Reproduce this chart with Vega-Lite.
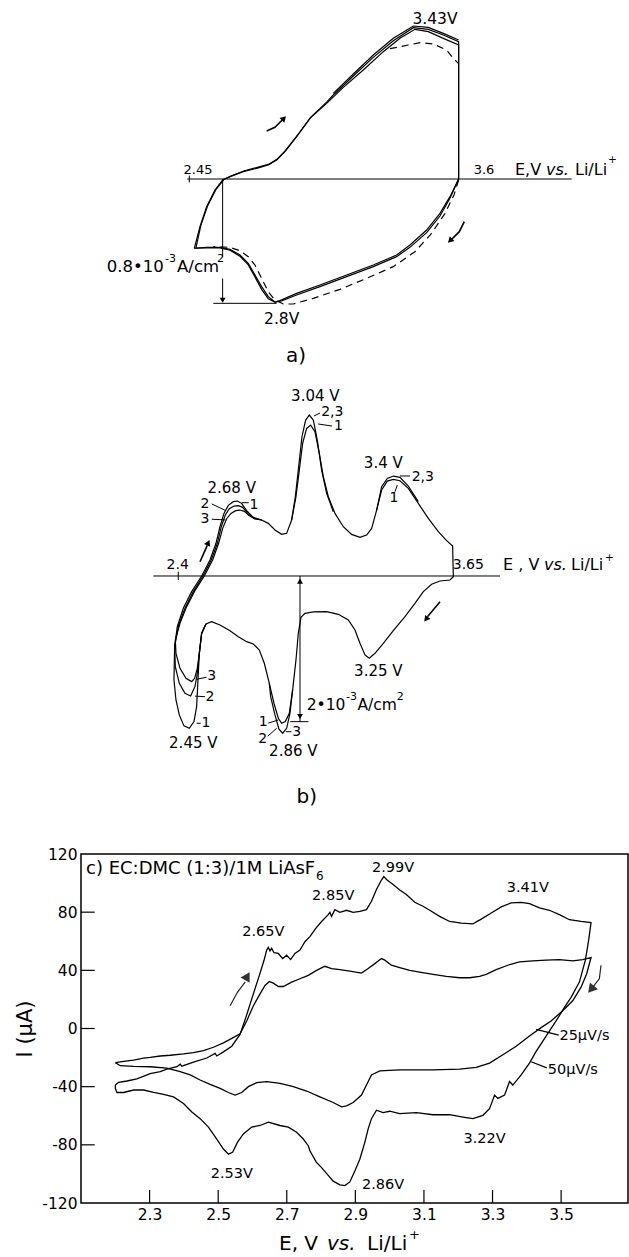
{
"$schema":"https://vega.github.io/schema/vega-lite/v6.json",
"background":"white",
"padding":{"left":14,"top":0,"right":0,"bottom":0},
"spacing":0,
"bounds":"flush",
"config":{"view":{"stroke":null},"text":{"font":"DejaVu Sans","color":"black"}},
"datasets":{
"a_solid":[
{"s":"1","k":1,"E":2.4713,"I":-0.4462},{"s":"1","k":2,"E":2.4954,"I":-0.3067},{"s":"1","k":3,"E":2.5238,"I":-0.178},{"s":"1","k":4,"E":2.5593,"I":-0.0708},{"s":"1","k":5,"E":2.592,"I":-0.0064},{"s":"1","k":6,"E":2.6232,"I":0.015},{"s":"1","k":7,"E":2.68,"I":0.0472},{"s":"1","k":8,"E":2.7368,"I":0.0686},{"s":"1","k":9,"E":2.7865,"I":0.0901},{"s":"1","k":10,"E":2.822,"I":0.1223},{"s":"1","k":11,"E":2.8574,"I":0.1759},{"s":"1","k":12,"E":2.9071,"I":0.2724},{"s":"1","k":13,"E":2.9639,"I":0.3904},{"s":"1","k":14,"E":3.0349,"I":0.4869},{"s":"1","k":15,"E":3.1059,"I":0.5899},{"s":"1","k":16,"E":3.1911,"I":0.7014},{"s":"1","k":17,"E":3.2762,"I":0.8194},{"s":"1","k":18,"E":3.3472,"I":0.9052},{"s":"1","k":19,"E":3.4111,"I":0.9631},{"s":"1","k":20,"E":3.4679,"I":0.9481},{"s":"1","k":21,"E":3.5318,"I":0.9052},{"s":"1","k":22,"E":3.5971,"I":0.8623},{"s":"1","k":23,"E":3.5971,"I":0},{"s":"1","k":24,"E":3.5885,"I":-0.0279},{"s":"1","k":25,"E":3.5602,"I":-0.1137},{"s":"1","k":26,"E":3.5176,"I":-0.2209},{"s":"1","k":27,"E":3.4608,"I":-0.3282},{"s":"1","k":28,"E":3.3898,"I":-0.4247},{"s":"1","k":29,"E":3.333,"I":-0.4891},{"s":"1","k":30,"E":3.2336,"I":-0.5534},{"s":"1","k":31,"E":3.1201,"I":-0.6178},{"s":"1","k":32,"E":3.0065,"I":-0.6821},{"s":"1","k":33,"E":2.9071,"I":-0.7357},{"s":"1","k":34,"E":2.8361,"I":-0.7829},{"s":"1","k":35,"E":2.8148,"I":-0.7915},{"s":"1","k":36,"E":2.7865,"I":-0.7572},{"s":"1","k":37,"E":2.7581,"I":-0.6928},{"s":"1","k":38,"E":2.7297,"I":-0.6178},{"s":"1","k":39,"E":2.7013,"I":-0.5427},{"s":"1","k":40,"E":2.6658,"I":-0.4891},{"s":"1","k":41,"E":2.6232,"I":-0.4526},{"s":"1","k":42,"E":2.5806,"I":-0.4397},{"s":"1","k":43,"E":2.5238,"I":-0.4397},{"s":"1","k":44,"E":2.4713,"I":-0.4462},
{"s":"2","k":1,"E":2.478,"I":-0.444},{"s":"2","k":2,"E":2.499,"I":-0.3},{"s":"2","k":3,"E":2.528,"I":-0.173},{"s":"2","k":4,"E":2.564,"I":-0.066},{"s":"2","k":5,"E":2.598,"I":-0.002},{"s":"2","k":6,"E":2.63,"I":0.02},{"s":"2","k":7,"E":2.685,"I":0.053},{"s":"2","k":8,"E":2.74,"I":0.075},{"s":"2","k":9,"E":2.79,"I":0.096},{"s":"2","k":10,"E":2.825,"I":0.129},{"s":"2","k":11,"E":2.86,"I":0.184},{"s":"2","k":12,"E":2.91,"I":0.28},{"s":"2","k":13,"E":2.968,"I":0.398},{"s":"2","k":14,"E":3.035,"I":0.495},{"s":"2","k":15,"E":3.0633,"I":0.5405},{"s":"2","k":16,"E":3.1485,"I":0.6628},{"s":"2","k":17,"E":3.2336,"I":0.783},{"s":"2","k":18,"E":3.3188,"I":0.8902},{"s":"2","k":19,"E":3.404,"I":0.9738},{"s":"2","k":20,"E":3.4679,"I":0.9631},{"s":"2","k":21,"E":3.5318,"I":0.9266},{"s":"2","k":22,"E":3.5971,"I":0.8837},{"s":"2","k":23,"E":3.5971,"I":0},{"s":"2","k":24,"E":3.5602,"I":-0.1244},{"s":"2","k":25,"E":3.5176,"I":-0.2381},{"s":"2","k":26,"E":3.4608,"I":-0.3453},{"s":"2","k":27,"E":3.3898,"I":-0.4397},{"s":"2","k":28,"E":3.333,"I":-0.4998},{"s":"2","k":29,"E":3.2336,"I":-0.5641},{"s":"2","k":30,"E":3.1201,"I":-0.6285},{"s":"2","k":31,"E":3.0065,"I":-0.6928},{"s":"2","k":32,"E":2.9071,"I":-0.7465},{"s":"2","k":33,"E":2.8432,"I":-0.7851},{"s":"2","k":34,"E":2.8148,"I":-0.7915},{"s":"2","k":35,"E":2.7865,"I":-0.77},{"s":"2","k":36,"E":2.7581,"I":-0.71},{"s":"2","k":37,"E":2.7297,"I":-0.63},{"s":"2","k":38,"E":2.7013,"I":-0.553},{"s":"2","k":39,"E":2.6658,"I":-0.497},{"s":"2","k":40,"E":2.6232,"I":-0.458},{"s":"2","k":41,"E":2.5806,"I":-0.444},{"s":"2","k":42,"E":2.5238,"I":-0.444},{"s":"2","k":43,"E":2.478,"I":-0.444},
{"s":"3","k":1,"E":3.0633,"I":0.5513},{"s":"3","k":2,"E":3.1485,"I":0.6757},{"s":"3","k":3,"E":3.2336,"I":0.798},{"s":"3","k":4,"E":3.3188,"I":0.9052},{"s":"3","k":5,"E":3.404,"I":0.9846},{"s":"3","k":6,"E":3.4679,"I":0.976},{"s":"3","k":7,"E":3.5318,"I":0.9374},{"s":"3","k":8,"E":3.5971,"I":0.8945}
],
"a_dash":[
{"s":"d1","k":1,"E":3.3046,"I":0.8387},{"s":"d1","k":2,"E":3.3827,"I":0.8623},{"s":"d1","k":3,"E":3.4324,"I":0.8773},{"s":"d1","k":4,"E":3.4892,"I":0.8687},{"s":"d1","k":5,"E":3.546,"I":0.8301},{"s":"d1","k":6,"E":3.5744,"I":0.7765},{"s":"d1","k":7,"E":3.5957,"I":0.7443},
{"s":"d2","k":1,"E":3.5971,"I":-0.0064},{"s":"d2","k":2,"E":3.5772,"I":-0.103},{"s":"d2","k":3,"E":3.5389,"I":-0.2209},{"s":"d2","k":4,"E":3.4821,"I":-0.3496},{"s":"d2","k":5,"E":3.4111,"I":-0.4676},{"s":"d2","k":6,"E":3.3188,"I":-0.5641},{"s":"d2","k":7,"E":3.2052,"I":-0.6392},{"s":"d2","k":8,"E":3.0917,"I":-0.71},{"s":"d2","k":9,"E":2.9781,"I":-0.7679},{"s":"d2","k":10,"E":2.8929,"I":-0.8044},{"s":"d2","k":11,"E":2.8503,"I":-0.8044},{"s":"d2","k":12,"E":2.8148,"I":-0.7786},{"s":"d2","k":13,"E":2.7865,"I":-0.725},{"s":"d2","k":14,"E":2.7581,"I":-0.6392},{"s":"d2","k":15,"E":2.7297,"I":-0.5534},{"s":"d2","k":16,"E":2.7013,"I":-0.4998},{"s":"d2","k":17,"E":2.6658,"I":-0.4612},{"s":"d2","k":18,"E":2.6232,"I":-0.4397},{"s":"d2","k":19,"E":2.5522,"I":-0.4354}
],
"a_rules":[
{"E":2.4415,"I":0,"E2":4.0786,"I2":0},{"E":2.45,"I":-0.022,"E2":2.45,"I2":0.022},{"E":2.592,"I":0,"E2":2.592,"I2":-0.5},{"E":2.592,"I":-0.64,"E2":2.592,"I2":-0.78},{"E":2.5522,"I":-0.8,"E2":2.822,"I2":-0.8}
],
"a_arr":[
{"s":"u","k":1,"E":2.7794,"I":0.3089},{"s":"u","k":2,"E":2.8148,"I":0.3325},{"s":"u","k":3,"E":2.848,"I":0.383},
{"s":"d","k":1,"E":3.6212,"I":-0.2746},{"s":"d","k":2,"E":3.6,"I":-0.3389},{"s":"d","k":3,"E":3.566,"I":-0.39}
],
"a_text":[
{"g":"c","t":"3.43V","E":3.4964,"I":1.0296},{"g":"c","t":"2.8V","E":2.8435,"I":-0.9009},
{"g":"s","t":"2.45","E":2.4871,"I":0.0579},{"g":"s","t":"3.6","E":3.7051,"I":0.0579},
{"g":"ax","t":"E,V","E":3.8371,"I":0.0579},{"g":"ax","t":"Li/Li","E":4.0926,"I":0.0579},
{"g":"i","t":"vs.","E":3.9691,"I":0.0579},
{"g":"sup","t":"+","E":4.2331,"I":0.12},
{"g":"big","t":"a)","E":2.9044,"I":-1.139},
{"g":"sci","t":"0.8•10","E":2.0982,"I":-0.5965},{"g":"sci","t":"A/cm","E":2.3978,"I":-0.5965},
{"g":"scis","t":"-3","E":2.3467,"I":-0.5341},{"g":"scis","t":"2","E":2.568,"I":-0.5341}
],
"b_curves":[
{"s":"1","k":1,"E":2.3803,"I":-1.428},{"s":"1","k":2,"E":2.3833,"I":-0.97},{"s":"1","k":3,"E":2.3954,"I":-0.696},{"s":"1","k":4,"E":2.4228,"I":-0.444},{"s":"1","k":5,"E":2.4607,"I":-0.215},{"s":"1","k":6,"E":2.5063,"I":0},{"s":"1","k":7,"E":2.5443,"I":0.22},{"s":"1","k":8,"E":2.5716,"I":0.449},{"s":"1","k":9,"E":2.5898,"I":0.677},{"s":"1","k":10,"E":2.608,"I":0.86},{"s":"1","k":11,"E":2.6278,"I":0.97},{"s":"1","k":12,"E":2.6506,"I":1.021},{"s":"1","k":13,"E":2.6688,"I":1.03},{"s":"1","k":14,"E":2.6885,"I":0.998},{"s":"1","k":15,"E":2.7113,"I":0.897},{"s":"1","k":16,"E":2.7417,"I":0.805},{"s":"1","k":17,"E":2.7797,"I":0.769},{"s":"1","k":18,"E":2.81,"I":0.723},{"s":"1","k":19,"E":2.8404,"I":0.632},{"s":"1","k":20,"E":2.8708,"I":0.572},{"s":"1","k":21,"E":2.8936,"I":0.586},{"s":"1","k":22,"E":2.9163,"I":0.769},{"s":"1","k":23,"E":2.9361,"I":1.089},{"s":"1","k":24,"E":2.9513,"I":1.455},{"s":"1","k":25,"E":2.9664,"I":1.822},{"s":"1","k":26,"E":2.9847,"I":2.027},{"s":"1","k":27,"E":3.0029,"I":2.073},{"s":"1","k":28,"E":3.0226,"I":1.982},{"s":"1","k":29,"E":3.0424,"I":1.684},{"s":"1","k":30,"E":3.0606,"I":1.364},{"s":"1","k":31,"E":3.0834,"I":1.089},{"s":"1","k":32,"E":3.1137,"I":0.86},{"s":"1","k":33,"E":3.1517,"I":0.677},{"s":"1","k":34,"E":3.1897,"I":0.572},{"s":"1","k":35,"E":3.2276,"I":0.531},{"s":"1","k":36,"E":3.258,"I":0.563},{"s":"1","k":37,"E":3.2808,"I":0.654},{"s":"1","k":38,"E":3.3036,"I":0.906},{"s":"1","k":39,"E":3.3264,"I":1.181},{"s":"1","k":40,"E":3.3522,"I":1.304},{"s":"1","k":41,"E":3.3795,"I":1.327},{"s":"1","k":42,"E":3.4099,"I":1.309},{"s":"1","k":43,"E":3.4479,"I":1.204},{"s":"1","k":44,"E":3.4934,"I":0.998},{"s":"1","k":45,"E":3.539,"I":0.792},{"s":"1","k":46,"E":3.5846,"I":0.609},{"s":"1","k":47,"E":3.6225,"I":0.485},{"s":"1","k":48,"E":3.6498,"I":0.412},{"s":"1","k":49,"E":3.6529,"I":-0.009},{"s":"1","k":50,"E":3.6377,"I":-0.055},{"s":"1","k":51,"E":3.5921,"I":-0.069},{"s":"1","k":52,"E":3.5541,"I":-0.114},{"s":"1","k":53,"E":3.5162,"I":-0.215},{"s":"1","k":54,"E":3.4782,"I":-0.375},{"s":"1","k":55,"E":3.4326,"I":-0.558},{"s":"1","k":56,"E":3.3795,"I":-0.751},{"s":"1","k":57,"E":3.334,"I":-0.924},{"s":"1","k":58,"E":3.296,"I":-1.062},{"s":"1","k":59,"E":3.2702,"I":-1.13},{"s":"1","k":60,"E":3.2504,"I":-1.085},{"s":"1","k":61,"E":3.2276,"I":-0.924},{"s":"1","k":62,"E":3.2049,"I":-0.741},{"s":"1","k":63,"E":3.1745,"I":-0.604},{"s":"1","k":64,"E":3.1289,"I":-0.526},{"s":"1","k":65,"E":3.0758,"I":-0.49},{"s":"1","k":66,"E":3.015,"I":-0.494},{"s":"1","k":67,"E":2.9771,"I":-0.513},{"s":"1","k":68,"E":2.9588,"I":-0.568},{"s":"1","k":69,"E":2.9467,"I":-0.787},{"s":"1","k":70,"E":2.9361,"I":-1.153},{"s":"1","k":71,"E":2.9209,"I":-1.565},{"s":"1","k":72,"E":2.9057,"I":-1.886},{"s":"1","k":73,"E":2.8875,"I":-2.0},{"s":"1","k":74,"E":2.8708,"I":-2.023},{"s":"1","k":75,"E":2.8556,"I":-1.954},{"s":"1","k":76,"E":2.8358,"I":-1.748},{"s":"1","k":77,"E":2.8146,"I":-1.474},{"s":"1","k":78,"E":2.7918,"I":-1.199},{"s":"1","k":79,"E":2.769,"I":-1.016},{"s":"1","k":80,"E":2.7417,"I":-0.934},{"s":"1","k":81,"E":2.7113,"I":-0.902},{"s":"1","k":82,"E":2.6733,"I":-0.833},{"s":"1","k":83,"E":2.6354,"I":-0.751},{"s":"1","k":84,"E":2.5898,"I":-0.673},{"s":"1","k":85,"E":2.5519,"I":-0.627},{"s":"1","k":86,"E":2.526,"I":-0.659},{"s":"1","k":87,"E":2.5063,"I":-0.787},{"s":"1","k":88,"E":2.4957,"I":-1.062},{"s":"1","k":89,"E":2.4896,"I":-1.428},{"s":"1","k":90,"E":2.4835,"I":-1.794},{"s":"1","k":91,"E":2.4714,"I":-2.0},{"s":"1","k":92,"E":2.4501,"I":-2.092},{"s":"1","k":93,"E":2.4258,"I":-2.059},{"s":"1","k":94,"E":2.4046,"I":-1.908},{"s":"1","k":95,"E":2.3894,"I":-1.703},{"s":"1","k":96,"E":2.3803,"I":-1.428},
{"s":"2A","k":1,"E":2.526,"I":-0.659},{"s":"2A","k":2,"E":2.5063,"I":-0.787},{"s":"2A","k":3,"E":2.4957,"I":-1.062},{"s":"2A","k":4,"E":2.4866,"I":-1.336},{"s":"2A","k":5,"E":2.4759,"I":-1.519},{"s":"2A","k":6,"E":2.4562,"I":-1.648},{"s":"2A","k":7,"E":2.4304,"I":-1.611},{"s":"2A","k":8,"E":2.4046,"I":-1.474},{"s":"2A","k":9,"E":2.3863,"I":-1.245},{"s":"2A","k":10,"E":2.3833,"I":-0.97},{"s":"2A","k":11,"E":2.4015,"I":-0.673},{"s":"2A","k":12,"E":2.4304,"I":-0.444},{"s":"2A","k":13,"E":2.4683,"I":-0.215},{"s":"2A","k":14,"E":2.5124,"I":0},{"s":"2A","k":15,"E":2.5503,"I":0.22},{"s":"2A","k":16,"E":2.5777,"I":0.449},{"s":"2A","k":17,"E":2.5959,"I":0.677},{"s":"2A","k":18,"E":2.6141,"I":0.838},{"s":"2A","k":19,"E":2.6323,"I":0.924},{"s":"2A","k":20,"E":2.6536,"I":0.961},{"s":"2A","k":21,"E":2.6733,"I":0.966},{"s":"2A","k":22,"E":2.6931,"I":0.943},{"s":"2A","k":23,"E":2.7159,"I":0.86},{"s":"2A","k":24,"E":2.7447,"I":0.792},{"s":"2A","k":25,"E":2.7797,"I":0.769},
{"s":"3A","k":1,"E":2.526,"I":-0.659},{"s":"3A","k":2,"E":2.5063,"I":-0.787},{"s":"3A","k":3,"E":2.4957,"I":-1.062},{"s":"3A","k":4,"E":2.4866,"I":-1.268},{"s":"3A","k":5,"E":2.4744,"I":-1.405},{"s":"3A","k":6,"E":2.4607,"I":-1.451},{"s":"3A","k":7,"E":2.4349,"I":-1.405},{"s":"3A","k":8,"E":2.4076,"I":-1.268},{"s":"3A","k":9,"E":2.3894,"I":-1.062},{"s":"3A","k":10,"E":2.3863,"I":-0.879},{"s":"3A","k":11,"E":2.4076,"I":-0.65},{"s":"3A","k":12,"E":2.438,"I":-0.421},{"s":"3A","k":13,"E":2.4759,"I":-0.201},{"s":"3A","k":14,"E":2.5185,"I":0},{"s":"3A","k":15,"E":2.5564,"I":0.22},{"s":"3A","k":16,"E":2.5837,"I":0.449},{"s":"3A","k":17,"E":2.602,"I":0.654},{"s":"3A","k":18,"E":2.6202,"I":0.787},{"s":"3A","k":19,"E":2.6399,"I":0.86},{"s":"3A","k":20,"E":2.6612,"I":0.897},{"s":"3A","k":21,"E":2.6809,"I":0.906},{"s":"3A","k":22,"E":2.7007,"I":0.888},{"s":"3A","k":23,"E":2.7235,"I":0.828},{"s":"3A","k":24,"E":2.7493,"I":0.783},{"s":"3A","k":25,"E":2.7797,"I":0.769},
{"s":"B","k":1,"E":2.9163,"I":0.769},{"s":"B","k":2,"E":2.9331,"I":1.089},{"s":"B","k":3,"E":2.9482,"I":1.501},{"s":"B","k":4,"E":2.9634,"I":1.913},{"s":"B","k":5,"E":2.9801,"I":2.142},{"s":"B","k":6,"E":2.9968,"I":2.211},{"s":"B","k":7,"E":3.015,"I":2.142},{"s":"B","k":8,"E":3.0332,"I":1.867},{"s":"B","k":9,"E":3.053,"I":1.455},{"s":"B","k":10,"E":3.0758,"I":1.135},{"s":"B","k":11,"E":3.1061,"I":0.883},
{"s":"C","k":1,"E":3.3036,"I":0.906},{"s":"C","k":2,"E":3.3264,"I":1.227},{"s":"C","k":3,"E":3.3522,"I":1.341},{"s":"C","k":4,"E":3.3795,"I":1.373},{"s":"C","k":5,"E":3.4099,"I":1.355},{"s":"C","k":6,"E":3.4479,"I":1.236},{"s":"C","k":7,"E":3.4934,"I":1.021},
{"s":"D","k":1,"E":2.9209,"I":-1.565},{"s":"D","k":2,"E":2.9087,"I":-1.886},{"s":"D","k":3,"E":2.8936,"I":-2.092},{"s":"D","k":4,"E":2.8754,"I":-2.16},{"s":"D","k":5,"E":2.8587,"I":-2.105},{"s":"D","k":6,"E":2.8404,"I":-1.908},{"s":"D","k":7,"E":2.8207,"I":-1.657},{"s":"D","k":8,"E":2.8146,"I":-1.474}
],
"b_rules":[
{"E":2.2861,"I":0,"E2":3.8656,"I2":0},{"E":2.4,"I":-0.055,"E2":2.4,"I2":0.06},{"E":2.9544,"I":0,"E2":2.9544,"I2":-2.0},{"E":2.9093,"I":-2.001,"E2":2.9927,"I2":-2.001},
{"E":3.0184,"I":2.198,"E2":3.0456,"I2":2.239},{"E":3.0369,"I":2.088,"E2":3.1007,"I2":2.06},{"E":2.5522,"I":0.99,"E2":2.615,"I2":0.9},{"E":2.5522,"I":0.78,"E2":2.615,"I2":0.77},{"E":2.6888,"I":1.007,"E2":2.721,"I2":1.007},{"E":3.41,"I":1.374,"E2":3.4556,"I2":1.374},{"E":3.3873,"I":1.158,"E2":3.3978,"I2":1.25},{"E":2.4838,"I":-1.419,"E2":2.528,"I2":-1.391},{"E":2.4761,"I":-1.65,"E2":2.5216,"I2":-1.658},{"E":2.4838,"I":-2.023,"E2":2.502,"I2":-2.023},{"E":2.81,"I":-2.02,"E2":2.8556,"I2":-1.978},{"E":2.8073,"I":-2.2,"E2":2.8483,"I2":-2.092},{"E":2.89,"I":-2.139,"E2":2.915,"I2":-2.139}
],
"b_arr":[
{"s":"l","k":1,"E":2.4989,"I":0.196},{"s":"l","k":2,"E":2.532,"I":0.42},
{"s":"r","k":1,"E":3.5923,"I":-0.353},{"s":"r","k":2,"E":3.535,"I":-0.56}
],
"b_text":[
{"g":"c","t":"3.04 V","E":3.0242,"I":2.473},{"g":"c","t":"2.68 V","E":2.6433,"I":1.205},{"g":"c","t":"3.4 V","E":3.3339,"I":1.548},{"g":"c","t":"3.25 V","E":3.3112,"I":-1.301},{"g":"c","t":"2.45 V","E":2.4683,"I":-2.29},{"g":"c","t":"2.86 V","E":2.9239,"I":-2.404},
{"g":"n","t":"2","E":2.5216,"I":0.99},{"g":"n","t":"3","E":2.5216,"I":0.78},{"g":"n","t":"1","E":2.7449,"I":0.975},{"g":"n","t":"1","E":3.3827,"I":1.067},{"g":"n","t":"3","E":2.5522,"I":-1.369},{"g":"n","t":"2","E":2.5444,"I":-1.658},{"g":"n","t":"1","E":2.5262,"I":-2.023},{"g":"n","t":"1","E":2.7872,"I":-2.0},{"g":"n","t":"2","E":2.7845,"I":-2.235},{"g":"n","t":"3","E":2.9394,"I":-2.139},
{"g":"s","t":"2.4","E":2.3973,"I":0.151},{"g":"s","t":"3.65","E":3.7212,"I":0.151},
{"g":"l","t":"2,3","E":3.051,"I":2.253},{"g":"l","t":"1","E":3.1093,"I":2.06},{"g":"l","t":"2,3","E":3.4633,"I":1.356},
{"g":"ax","t":"E , V","E":3.8793,"I":0.151},{"g":"ax","t":"Li/Li","E":4.1891,"I":0.151},
{"g":"i","t":"vs.","E":4.0661,"I":0.151},
{"g":"sup","t":"+","E":4.344,"I":0.25},
{"g":"big","t":"b)","E":2.985,"I":-3.036},
{"g":"sci","t":"2•10","E":2.985,"I":-1.841},{"g":"sci","t":"A/cm","E":3.2164,"I":-1.841},
{"g":"scis","t":"-3","E":3.164,"I":-1.707},{"g":"scis","t":"2","E":3.3952,"I":-1.707}
],
"c_curves":[
{"s":"o","k":1,"E":2.2001,"I":-38.9},{"s":"o","k":2,"E":2.2098,"I":-37.0},{"s":"o","k":3,"E":2.234,"I":-36.1},{"s":"o","k":4,"E":2.2631,"I":-34.7},{"s":"o","k":5,"E":2.302,"I":-31.0},{"s":"o","k":6,"E":2.331,"I":-29.6},{"s":"o","k":7,"E":2.3504,"I":-28.0},{"s":"o","k":8,"E":2.3795,"I":-26.3},{"s":"o","k":9,"E":2.3892,"I":-24.5},{"s":"o","k":10,"E":2.3941,"I":-25.9},{"s":"o","k":11,"E":2.428,"I":-23.1},{"s":"o","k":12,"E":2.4668,"I":-20.3},{"s":"o","k":13,"E":2.4911,"I":-17.1},{"s":"o","k":14,"E":2.4959,"I":-18.9},{"s":"o","k":15,"E":2.5153,"I":-16.1},{"s":"o","k":16,"E":2.5396,"I":-12.2},{"s":"o","k":17,"E":2.5638,"I":-4.1},{"s":"o","k":18,"E":2.5832,"I":9.4},{"s":"o","k":19,"E":2.6026,"I":23.8},{"s":"o","k":20,"E":2.6201,"I":36.5},{"s":"o","k":21,"E":2.6337,"I":46.9},{"s":"o","k":22,"E":2.6414,"I":53.9},{"s":"o","k":23,"E":2.6463,"I":55.8},{"s":"o","k":24,"E":2.6511,"I":53.4},{"s":"o","k":25,"E":2.656,"I":55.1},{"s":"o","k":26,"E":2.6628,"I":52.1},{"s":"o","k":27,"E":2.6754,"I":51.6},{"s":"o","k":28,"E":2.688,"I":48.1},{"s":"o","k":29,"E":2.6996,"I":50.4},{"s":"o","k":30,"E":2.7113,"I":47.4},{"s":"o","k":31,"E":2.7239,"I":51.6},{"s":"o","k":32,"E":2.7384,"I":53.9},{"s":"o","k":33,"E":2.753,"I":59.7},{"s":"o","k":34,"E":2.7675,"I":63.2},{"s":"o","k":35,"E":2.785,"I":69.0},{"s":"o","k":36,"E":2.8015,"I":73.6},{"s":"o","k":37,"E":2.8209,"I":78.3},{"s":"o","k":38,"E":2.8257,"I":79.9},{"s":"o","k":39,"E":2.8306,"I":77.1},{"s":"o","k":40,"E":2.8403,"I":81.7},{"s":"o","k":41,"E":2.8548,"I":79.9},{"s":"o","k":42,"E":2.8742,"I":81.3},{"s":"o","k":43,"E":2.8936,"I":79.9},{"s":"o","k":44,"E":2.913,"I":80.6},{"s":"o","k":45,"E":2.9324,"I":81.7},{"s":"o","k":46,"E":2.947,"I":87.5},{"s":"o","k":47,"E":2.9615,"I":95.6},{"s":"o","k":48,"E":2.9761,"I":102.1},{"s":"o","k":49,"E":2.9829,"I":104.5},{"s":"o","k":50,"E":2.9926,"I":102.1},{"s":"o","k":51,"E":3.01,"I":99.1},{"s":"o","k":52,"E":3.0294,"I":95.2},{"s":"o","k":53,"E":3.0488,"I":92.2},{"s":"o","k":54,"E":3.0731,"I":86.8},{"s":"o","k":55,"E":3.0973,"I":84.1},{"s":"o","k":56,"E":3.1216,"I":80.6},{"s":"o","k":57,"E":3.1458,"I":77.1},{"s":"o","k":58,"E":3.1749,"I":73.6},{"s":"o","k":59,"E":3.2089,"I":72.5},{"s":"o","k":60,"E":3.2428,"I":72.0},{"s":"o","k":61,"E":3.2671,"I":75.2},{"s":"o","k":62,"E":3.2962,"I":79.4},{"s":"o","k":63,"E":3.3253,"I":83.6},{"s":"o","k":64,"E":3.3544,"I":86.4},{"s":"o","k":65,"E":3.3835,"I":86.8},{"s":"o","k":66,"E":3.4077,"I":85.9},{"s":"o","k":67,"E":3.4368,"I":82.9},{"s":"o","k":68,"E":3.4659,"I":81.3},{"s":"o","k":69,"E":3.495,"I":78.3},{"s":"o","k":70,"E":3.5241,"I":74.8},{"s":"o","k":71,"E":3.5581,"I":73.6},{"s":"o","k":72,"E":3.5872,"I":72.9},{"s":"o","k":73,"E":3.5804,"I":60.9},{"s":"o","k":74,"E":3.5707,"I":47.0},{"s":"o","k":75,"E":3.5532,"I":31.9},{"s":"o","k":76,"E":3.529,"I":21.4},{"s":"o","k":77,"E":3.5096,"I":14.5},{"s":"o","k":78,"E":3.4853,"I":5.2},{"s":"o","k":79,"E":3.4562,"I":-5.2},{"s":"o","k":80,"E":3.4271,"I":-15.7},{"s":"o","k":81,"E":3.4077,"I":-23.8},{"s":"o","k":82,"E":3.3835,"I":-31.9},{"s":"o","k":83,"E":3.3592,"I":-38.9},{"s":"o","k":84,"E":3.3495,"I":-36.5},{"s":"o","k":85,"E":3.335,"I":-45.8},{"s":"o","k":86,"E":3.3156,"I":-48.1},{"s":"o","k":87,"E":3.3059,"I":-45.8},{"s":"o","k":88,"E":3.2913,"I":-55.1},{"s":"o","k":89,"E":3.2719,"I":-59.7},{"s":"o","k":90,"E":3.2428,"I":-62.0},{"s":"o","k":91,"E":3.2137,"I":-60.9},{"s":"o","k":92,"E":3.1749,"I":-59.3},{"s":"o","k":93,"E":3.1264,"I":-59.3},{"s":"o","k":94,"E":3.0779,"I":-57.9},{"s":"o","k":95,"E":3.0294,"I":-58.6},{"s":"o","k":96,"E":3.0003,"I":-56.9},{"s":"o","k":97,"E":2.9809,"I":-57.9},{"s":"o","k":98,"E":2.9615,"I":-56.2},{"s":"o","k":99,"E":2.947,"I":-62.0},{"s":"o","k":100,"E":2.9373,"I":-69.0},{"s":"o","k":101,"E":2.9276,"I":-78.3},{"s":"o","k":102,"E":2.913,"I":-89.9},{"s":"o","k":103,"E":2.8985,"I":-98.0},{"s":"o","k":104,"E":2.8839,"I":-105.5},{"s":"o","k":105,"E":2.8694,"I":-108.0},{"s":"o","k":106,"E":2.8548,"I":-107.5},{"s":"o","k":107,"E":2.8354,"I":-105.0},{"s":"o","k":108,"E":2.8209,"I":-101.0},{"s":"o","k":109,"E":2.8015,"I":-95.7},{"s":"o","k":110,"E":2.7869,"I":-92.2},{"s":"o","k":111,"E":2.7675,"I":-84.1},{"s":"o","k":112,"E":2.7627,"I":-80.6},{"s":"o","k":113,"E":2.7481,"I":-76.0},{"s":"o","k":114,"E":2.7287,"I":-71.3},{"s":"o","k":115,"E":2.7045,"I":-67.8},{"s":"o","k":116,"E":2.6802,"I":-66.7},{"s":"o","k":117,"E":2.6463,"I":-64.4},{"s":"o","k":118,"E":2.622,"I":-66.7},{"s":"o","k":119,"E":2.5978,"I":-67.8},{"s":"o","k":120,"E":2.5735,"I":-72.5},{"s":"o","k":121,"E":2.5561,"I":-78.3},{"s":"o","k":122,"E":2.5425,"I":-85.0},{"s":"o","k":123,"E":2.5299,"I":-86.5},{"s":"o","k":124,"E":2.5153,"I":-82.9},{"s":"o","k":125,"E":2.4959,"I":-76.0},{"s":"o","k":126,"E":2.4717,"I":-67.8},{"s":"o","k":127,"E":2.4474,"I":-62.0},{"s":"o","k":128,"E":2.4232,"I":-57.4},{"s":"o","k":129,"E":2.3989,"I":-51.6},{"s":"o","k":130,"E":2.3698,"I":-47.0},{"s":"o","k":131,"E":2.3407,"I":-45.3},{"s":"o","k":132,"E":2.3116,"I":-44.0},{"s":"o","k":133,"E":2.2825,"I":-42.3},{"s":"o","k":134,"E":2.2534,"I":-42.3},{"s":"o","k":135,"E":2.2243,"I":-44.0},{"s":"o","k":136,"E":2.2049,"I":-44.0},{"s":"o","k":137,"E":2.2001,"I":-41.2},{"s":"o","k":138,"E":2.2001,"I":-38.9},
{"s":"i","k":1,"E":2.2001,"I":-23.5},{"s":"i","k":2,"E":2.2243,"I":-22.6},{"s":"i","k":3,"E":2.2534,"I":-21.7},{"s":"i","k":4,"E":2.2825,"I":-20.3},{"s":"i","k":5,"E":2.302,"I":-19.8},{"s":"i","k":6,"E":2.331,"I":-18.9},{"s":"i","k":7,"E":2.3601,"I":-18.4},{"s":"i","k":8,"E":2.3989,"I":-17.5},{"s":"i","k":9,"E":2.428,"I":-16.6},{"s":"i","k":10,"E":2.4571,"I":-15.2},{"s":"i","k":11,"E":2.4862,"I":-12.9},{"s":"i","k":12,"E":2.5153,"I":-9.9},{"s":"i","k":13,"E":2.5396,"I":-6.8},{"s":"i","k":14,"E":2.5638,"I":-3.6},{"s":"i","k":15,"E":2.5832,"I":5.2},{"s":"i","k":16,"E":2.6026,"I":15.6},{"s":"i","k":17,"E":2.622,"I":23.8},{"s":"i","k":18,"E":2.6366,"I":29.6},{"s":"i","k":19,"E":2.6492,"I":32.3},{"s":"i","k":20,"E":2.6608,"I":31.2},{"s":"i","k":21,"E":2.6754,"I":28.9},{"s":"i","k":22,"E":2.6899,"I":28.9},{"s":"i","k":23,"E":2.7142,"I":31.9},{"s":"i","k":24,"E":2.7384,"I":34.2},{"s":"i","k":25,"E":2.7627,"I":36.5},{"s":"i","k":26,"E":2.7869,"I":40.0},{"s":"i","k":27,"E":2.8112,"I":42.8},{"s":"i","k":28,"E":2.8306,"I":41.2},{"s":"i","k":29,"E":2.8548,"I":40.5},{"s":"i","k":30,"E":2.8839,"I":39.5},{"s":"i","k":31,"E":2.9179,"I":38.1},{"s":"i","k":32,"E":2.9373,"I":41.2},{"s":"i","k":33,"E":2.9567,"I":44.6},{"s":"i","k":34,"E":2.9761,"I":48.1},{"s":"i","k":35,"E":2.9858,"I":47.0},{"s":"i","k":36,"E":3.0052,"I":43.5},{"s":"i","k":37,"E":3.0294,"I":41.9},{"s":"i","k":38,"E":3.0585,"I":40.0},{"s":"i","k":39,"E":3.0876,"I":38.8},{"s":"i","k":40,"E":3.1264,"I":37.2},{"s":"i","k":41,"E":3.1652,"I":35.8},{"s":"i","k":42,"E":3.204,"I":34.9},{"s":"i","k":43,"E":3.2331,"I":34.9},{"s":"i","k":44,"E":3.2622,"I":35.8},{"s":"i","k":45,"E":3.2816,"I":37.2},{"s":"i","k":46,"E":3.3107,"I":40.5},{"s":"i","k":47,"E":3.3447,"I":43.5},{"s":"i","k":48,"E":3.3786,"I":45.8},{"s":"i","k":49,"E":3.4174,"I":46.5},{"s":"i","k":50,"E":3.4562,"I":47.0},{"s":"i","k":51,"E":3.495,"I":47.4},{"s":"i","k":52,"E":3.5338,"I":46.5},{"s":"i","k":53,"E":3.5629,"I":47.4},{"s":"i","k":54,"E":3.5872,"I":48.8},{"s":"i","k":55,"E":3.5746,"I":37.7},{"s":"i","k":56,"E":3.5581,"I":28.4},{"s":"i","k":57,"E":3.5338,"I":19.1},{"s":"i","k":58,"E":3.5047,"I":12.2},{"s":"i","k":59,"E":3.4707,"I":5.2},{"s":"i","k":60,"E":3.4417,"I":0.6},{"s":"i","k":61,"E":3.4077,"I":-5.2},{"s":"i","k":62,"E":3.3689,"I":-12.2},{"s":"i","k":63,"E":3.3301,"I":-18.0},{"s":"i","k":64,"E":3.2913,"I":-23.8},{"s":"i","k":65,"E":3.2525,"I":-26.8},{"s":"i","k":66,"E":3.204,"I":-28.0},{"s":"i","k":67,"E":3.1264,"I":-28.4},{"s":"i","k":68,"E":3.0294,"I":-28.4},{"s":"i","k":69,"E":2.9712,"I":-29.1},{"s":"i","k":70,"E":2.947,"I":-31.9},{"s":"i","k":71,"E":2.9324,"I":-38.9},{"s":"i","k":72,"E":2.9179,"I":-45.8},{"s":"i","k":73,"E":2.8936,"I":-50.9},{"s":"i","k":74,"E":2.8742,"I":-53.2},{"s":"i","k":75,"E":2.8597,"I":-53.9},{"s":"i","k":76,"E":2.8354,"I":-50.9},{"s":"i","k":77,"E":2.7966,"I":-47.0},{"s":"i","k":78,"E":2.7578,"I":-43.0},{"s":"i","k":79,"E":2.719,"I":-40.0},{"s":"i","k":80,"E":2.6802,"I":-37.7},{"s":"i","k":81,"E":2.6414,"I":-36.5},{"s":"i","k":82,"E":2.6123,"I":-37.2},{"s":"i","k":83,"E":2.5881,"I":-40.0},{"s":"i","k":84,"E":2.5687,"I":-44.0},{"s":"i","k":85,"E":2.5493,"I":-45.8},{"s":"i","k":86,"E":2.5299,"I":-44.0},{"s":"i","k":87,"E":2.5056,"I":-41.2},{"s":"i","k":88,"E":2.4765,"I":-38.4},{"s":"i","k":89,"E":2.4474,"I":-35.4},{"s":"i","k":90,"E":2.4183,"I":-31.9},{"s":"i","k":91,"E":2.3892,"I":-29.6},{"s":"i","k":92,"E":2.3504,"I":-27.3},{"s":"i","k":93,"E":2.3019,"I":-26.3},{"s":"i","k":94,"E":2.2534,"I":-26.1},{"s":"i","k":95,"E":2.2146,"I":-25.6},{"s":"i","k":96,"E":2.2001,"I":-23.5}
],
"c_rules":[
{"E":2.3,"I":-120,"E2":2.3,"I2":-111},{"E":2.5,"I":-120,"E2":2.5,"I2":-111},{"E":2.7,"I":-120,"E2":2.7,"I2":-111},{"E":2.9,"I":-120,"E2":2.9,"I2":-111},{"E":3.1,"I":-120,"E2":3.1,"I2":-111},{"E":3.3,"I":-120,"E2":3.3,"I2":-111},{"E":3.5,"I":-120,"E2":3.5,"I2":-111},
{"E":2.1,"I":-80,"E2":2.14,"I2":-80},{"E":2.1,"I":-40,"E2":2.14,"I2":-40},{"E":2.1,"I":0,"E2":2.14,"I2":0},{"E":2.1,"I":40,"E2":2.14,"I2":40},{"E":2.1,"I":80,"E2":2.14,"I2":80},
{"E":3.4271,"I":-0.6,"E2":3.4931,"I2":-4.5},{"E":3.4126,"I":-22.9,"E2":3.4582,"I2":-27.1}
],
"c_arr":[
{"s":"l","k":1,"E":2.5347,"I":15.6},{"s":"l","k":2,"E":2.5561,"I":24.9},{"s":"l","k":3,"E":2.579,"I":32.0},
{"s":"r","k":1,"E":3.6163,"I":43.5},{"s":"r","k":2,"E":3.6114,"I":34.2},{"s":"r","k":3,"E":3.594,"I":29.0}
],
"c_text":[
{"g":"c","t":"2.99V","E":3.01,"I":110.7},{"g":"c","t":"2.85V","E":2.8354,"I":91.0},{"g":"c","t":"3.41V","E":3.4029,"I":96.8},{"g":"c","t":"2.65V","E":2.6317,"I":66.6},{"g":"c","t":"3.22V","E":3.2768,"I":-75.9},{"g":"c","t":"2.53V","E":2.5396,"I":-100.3},{"g":"c","t":"2.86V","E":2.9809,"I":-107.3},
{"g":"l","t":"25μV/s","E":3.495,"I":-5.2},{"g":"l","t":"50μV/s","E":3.4611,"I":-28.4},
{"g":"t","t":"c) EC:DMC (1:3)/1M LiAsF","E":2.1146,"I":109.7},
{"g":"sub","t":"6","E":2.7853,"I":104.9},
{"g":"xt","t":"E, V","E":2.6774,"I":-152.3},{"g":"xt","t":"Li/Li","E":2.9341,"I":-152.3},
{"g":"xti","t":"vs.","E":2.8174,"I":-152.3},
{"g":"xts","t":"+","E":3.0565,"I":-144.5}
],
"heads":[
{"id":"au","E":2.8532,"I":0.3904},{"id":"ad","E":3.5602,"I":-0.3968},{"id":"asb","E":2.592,"I":-0.78},
{"id":"bu","E":2.5367,"I":0.457},{"id":"bd","E":3.5285,"I":-0.595},{"id":"bst","E":2.9544,"I":-0.07},{"id":"bsb","E":2.9544,"I":-1.93},
{"id":"cl","E":2.585,"I":36.0},{"id":"cr","E":3.5872,"I":27.0}
]
},
"vconcat":[
{
"width":547,"height":380,
"encoding":{
"x":{"field":"E","type":"quantitative","scale":{"domain":[1.9888,4.3184],"nice":false,"zero":false},"axis":null},
"y":{"field":"I","type":"quantitative","scale":{"domain":[-1.2934,1.1519],"nice":false,"zero":false},"axis":null}
},
"layer":[
{"data":{"name":"a_rules"},"mark":{"type":"rule","color":"black","strokeWidth":1},"encoding":{"x2":{"field":"E2"},"y2":{"field":"I2"}}},
{"data":{"name":"a_solid"},"mark":{"type":"line","color":"black","strokeWidth":1.2},"encoding":{"detail":{"field":"s","type":"nominal"},"order":{"field":"k","type":"quantitative"}}},
{"data":{"name":"a_dash"},"mark":{"type":"line","color":"black","strokeWidth":1.2,"strokeDash":[7,5]},"encoding":{"detail":{"field":"s","type":"nominal"},"order":{"field":"k","type":"quantitative"}}},
{"data":{"name":"a_arr"},"mark":{"type":"line","color":"black","strokeWidth":1.6},"encoding":{"detail":{"field":"s","type":"nominal"},"order":{"field":"k","type":"quantitative"}}},
{"data":{"name":"heads"},"transform":[{"filter":"datum.id==='au'"}],"mark":{"type":"point","shape":"triangle-up","filled":true,"color":"black","opacity":1,"size":45,"angle":45}},
{"data":{"name":"heads"},"transform":[{"filter":"datum.id==='ad'"}],"mark":{"type":"point","shape":"triangle-up","filled":true,"color":"black","opacity":1,"size":45,"angle":226}},
{"data":{"name":"heads"},"transform":[{"filter":"datum.id==='asb'"}],"mark":{"type":"point","shape":"triangle-up","filled":true,"color":"black","opacity":1,"size":35,"angle":180}},
{"data":{"name":"a_text"},"transform":[{"filter":"datum.g==='c'"}],"mark":{"type":"text","font":"DejaVu Sans","fontSize":15.5,"align":"center","baseline":"middle"},"encoding":{"text":{"field":"t"}}},
{"data":{"name":"a_text"},"transform":[{"filter":"datum.g==='s'"}],"mark":{"type":"text","font":"DejaVu Sans","fontSize":13,"align":"center","baseline":"middle"},"encoding":{"text":{"field":"t"}}},
{"data":{"name":"a_text"},"transform":[{"filter":"datum.g==='ax'"}],"mark":{"type":"text","font":"DejaVu Sans","fontSize":16,"align":"left","baseline":"middle"},"encoding":{"text":{"field":"t"}}},
{"data":{"name":"a_text"},"transform":[{"filter":"datum.g==='i'"}],"mark":{"type":"text","font":"DejaVu Sans","fontSize":16,"fontStyle":"italic","align":"left","baseline":"middle"},"encoding":{"text":{"field":"t"}}},
{"data":{"name":"a_text"},"transform":[{"filter":"datum.g==='sup'"}],"mark":{"type":"text","font":"DejaVu Sans","fontSize":10.5,"align":"left","baseline":"middle"},"encoding":{"text":{"field":"t"}}},
{"data":{"name":"a_text"},"transform":[{"filter":"datum.g==='big'"}],"mark":{"type":"text","font":"DejaVu Sans","fontSize":20,"align":"center","baseline":"middle"},"encoding":{"text":{"field":"t"}}},
{"data":{"name":"a_text"},"transform":[{"filter":"datum.g==='sci'"}],"mark":{"type":"text","font":"DejaVu Sans","fontSize":16.5,"align":"left","baseline":"alphabetic"},"encoding":{"text":{"field":"t"}}},
{"data":{"name":"a_text"},"transform":[{"filter":"datum.g==='scis'"}],"mark":{"type":"text","font":"DejaVu Sans","fontSize":11,"align":"left","baseline":"alphabetic"},"encoding":{"text":{"field":"t"}}}
]
},
{
"width":547,"height":474,
"encoding":{
"x":{"field":"E","type":"quantitative","scale":{"domain":[1.9567,4.4487],"nice":false,"zero":false},"axis":null},
"y":{"field":"I","type":"quantitative","scale":{"domain":[-3.8187,2.6923],"nice":false,"zero":false},"axis":null}
},
"layer":[
{"data":{"name":"b_rules"},"mark":{"type":"rule","color":"black","strokeWidth":1},"encoding":{"x2":{"field":"E2"},"y2":{"field":"I2"}}},
{"data":{"name":"b_curves"},"mark":{"type":"line","color":"black","strokeWidth":1.2},"encoding":{"detail":{"field":"s","type":"nominal"},"order":{"field":"k","type":"quantitative"}}},
{"data":{"name":"b_arr"},"mark":{"type":"line","color":"black","strokeWidth":1.6},"encoding":{"detail":{"field":"s","type":"nominal"},"order":{"field":"k","type":"quantitative"}}},
{"data":{"name":"heads"},"transform":[{"filter":"datum.id==='bu'"}],"mark":{"type":"point","shape":"triangle-up","filled":true,"color":"black","opacity":1,"size":45,"angle":24}},
{"data":{"name":"heads"},"transform":[{"filter":"datum.id==='bd'"}],"mark":{"type":"point","shape":"triangle-up","filled":true,"color":"black","opacity":1,"size":45,"angle":218}},
{"data":{"name":"heads"},"transform":[{"filter":"datum.id==='bst'"}],"mark":{"type":"point","shape":"triangle-up","filled":true,"color":"black","opacity":1,"size":35,"angle":0}},
{"data":{"name":"heads"},"transform":[{"filter":"datum.id==='bsb'"}],"mark":{"type":"point","shape":"triangle-up","filled":true,"color":"black","opacity":1,"size":35,"angle":180}},
{"data":{"name":"b_text"},"transform":[{"filter":"datum.g==='c'"}],"mark":{"type":"text","font":"DejaVu Sans","fontSize":15,"align":"center","baseline":"middle"},"encoding":{"text":{"field":"t"}}},
{"data":{"name":"b_text"},"transform":[{"filter":"datum.g==='n'"}],"mark":{"type":"text","font":"DejaVu Sans","fontSize":14,"align":"center","baseline":"middle"},"encoding":{"text":{"field":"t"}}},
{"data":{"name":"b_text"},"transform":[{"filter":"datum.g==='s'"}],"mark":{"type":"text","font":"DejaVu Sans","fontSize":14,"align":"center","baseline":"middle"},"encoding":{"text":{"field":"t"}}},
{"data":{"name":"b_text"},"transform":[{"filter":"datum.g==='l'"}],"mark":{"type":"text","font":"DejaVu Sans","fontSize":14,"align":"left","baseline":"middle"},"encoding":{"text":{"field":"t"}}},
{"data":{"name":"b_text"},"transform":[{"filter":"datum.g==='ax'"}],"mark":{"type":"text","font":"DejaVu Sans","fontSize":16,"align":"left","baseline":"middle"},"encoding":{"text":{"field":"t"}}},
{"data":{"name":"b_text"},"transform":[{"filter":"datum.g==='i'"}],"mark":{"type":"text","font":"DejaVu Sans","fontSize":16,"fontStyle":"italic","align":"left","baseline":"middle"},"encoding":{"text":{"field":"t"}}},
{"data":{"name":"b_text"},"transform":[{"filter":"datum.g==='sup'"}],"mark":{"type":"text","font":"DejaVu Sans","fontSize":10.5,"align":"left","baseline":"middle"},"encoding":{"text":{"field":"t"}}},
{"data":{"name":"b_text"},"transform":[{"filter":"datum.g==='big'"}],"mark":{"type":"text","font":"DejaVu Sans","fontSize":20,"align":"center","baseline":"middle"},"encoding":{"text":{"field":"t"}}},
{"data":{"name":"b_text"},"transform":[{"filter":"datum.g==='sci'"}],"mark":{"type":"text","font":"DejaVu Sans","fontSize":15.5,"align":"left","baseline":"alphabetic"},"encoding":{"text":{"field":"t"}}},
{"data":{"name":"b_text"},"transform":[{"filter":"datum.g==='scis'"}],"mark":{"type":"text","font":"DejaVu Sans","fontSize":11,"align":"left","baseline":"alphabetic"},"encoding":{"text":{"field":"t"}}}
]
},
{
"width":547,"height":349,
"view":{"stroke":"black","strokeWidth":1.5},
"encoding":{
"x":{"field":"E","type":"quantitative","scale":{"domain":[2.1,3.695],"nice":false,"zero":false},"axis":{"values":[2.3,2.5,2.7,2.9,3.1,3.3,3.5],"format":".1f","ticks":false,"domain":false,"grid":false,"title":null,"labelFont":"DejaVu Sans","labelFontSize":15.5,"labelColor":"black","labelPadding":4,"labelFlush":false}},
"y":{"field":"I","type":"quantitative","scale":{"domain":[-120,120],"nice":false,"zero":false},"axis":{"values":[-120,-80,-40,0,40,80,120],"ticks":false,"domain":false,"grid":false,"title":"I (μA)","labelFont":"DejaVu Sans","labelFontSize":15.5,"labelColor":"black","labelPadding":4,"labelFlush":false,"labelExpr":"replace(datum.label,'−','-')","titleFont":"DejaVu Sans","titleFontSize":21,"titleFontWeight":"normal","titleColor":"black","titlePadding":6}}
},
"layer":[
{"data":{"name":"c_rules"},"mark":{"type":"rule","color":"black","strokeWidth":1.2},"encoding":{"x2":{"field":"E2"},"y2":{"field":"I2"}}},
{"data":{"name":"c_curves"},"mark":{"type":"line","color":"black","strokeWidth":1.3},"encoding":{"detail":{"field":"s","type":"nominal"},"order":{"field":"k","type":"quantitative"}}},
{"data":{"name":"c_arr"},"mark":{"type":"line","color":"#222","strokeWidth":1.2},"encoding":{"detail":{"field":"s","type":"nominal"},"order":{"field":"k","type":"quantitative"}}},
{"data":{"name":"heads"},"transform":[{"filter":"datum.id==='cl'"}],"mark":{"type":"point","shape":"triangle-up","filled":true,"color":"#333","opacity":1,"size":110,"angle":30}},
{"data":{"name":"heads"},"transform":[{"filter":"datum.id==='cr'"}],"mark":{"type":"point","shape":"triangle-up","filled":true,"color":"#333","opacity":1,"size":110,"angle":220}},
{"data":{"name":"c_text"},"transform":[{"filter":"datum.g==='c'"}],"mark":{"type":"text","font":"DejaVu Sans","fontSize":14.5,"align":"center","baseline":"middle"},"encoding":{"text":{"field":"t"}}},
{"data":{"name":"c_text"},"transform":[{"filter":"datum.g==='l'"}],"mark":{"type":"text","font":"DejaVu Sans","fontSize":14.5,"align":"left","baseline":"middle"},"encoding":{"text":{"field":"t"}}},
{"data":{"name":"c_text"},"transform":[{"filter":"datum.g==='t'"}],"mark":{"type":"text","font":"DejaVu Sans","fontSize":18,"align":"left","baseline":"middle"},"encoding":{"text":{"field":"t"}}},
{"data":{"name":"c_text"},"transform":[{"filter":"datum.g==='sub'"}],"mark":{"type":"text","font":"DejaVu Sans","fontSize":12,"align":"left","baseline":"middle"},"encoding":{"text":{"field":"t"}}},
{"data":{"name":"c_text"},"transform":[{"filter":"datum.g==='xt'"}],"mark":{"type":"text","font":"DejaVu Sans","fontSize":20,"align":"left","baseline":"alphabetic"},"encoding":{"text":{"field":"t"}}},
{"data":{"name":"c_text"},"transform":[{"filter":"datum.g==='xti'"}],"mark":{"type":"text","font":"DejaVu Sans","fontSize":20,"fontStyle":"italic","align":"left","baseline":"alphabetic"},"encoding":{"text":{"field":"t"}}},
{"data":{"name":"c_text"},"transform":[{"filter":"datum.g==='xts'"}],"mark":{"type":"text","font":"DejaVu Sans","fontSize":13,"align":"left","baseline":"alphabetic"},"encoding":{"text":{"field":"t"}}}
]
}
]
}
